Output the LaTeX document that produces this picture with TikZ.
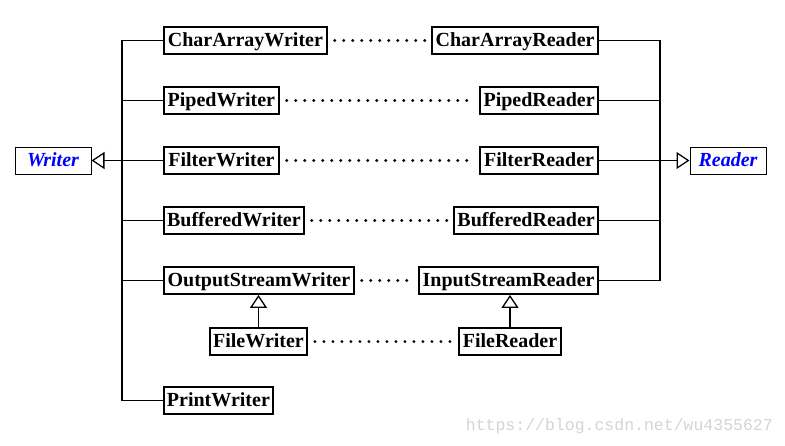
\documentclass[tikz,border=0pt]{standalone}
\usepackage{fontspec}
\setmainfont{Liberation Serif}
\setmonofont{Liberation Mono}
\usetikzlibrary{arrows.meta}
\definecolor{wm}{RGB}{212,212,212}
\tikzset{
  cls/.style={draw, line width=1.8pt, font=\bfseries\fontsize{20}{21}\selectfont, inner xsep=2pt, inner ysep=0pt, text height=15pt, text depth=2.6pt, minimum height=27pt},
  abs/.style={draw, line width=1pt, text=blue, font=\bfseries\itshape\fontsize{20}{21}\selectfont, inner sep=0pt, text height=15pt, text depth=2.6pt, minimum height=27pt, minimum width=76pt},
  bus/.style={line width=1.9pt},
  pair/.style={line width=3.2pt, line cap=round, dash pattern=on 0pt off 9pt, shorten <=7pt, shorten >=5pt},
  inh/.style={line width=1.9pt, -{Triangle[open, length=13pt, width=17pt, line width=1.3pt]}},
}
\begin{document}
\begin{tikzpicture}[x=1pt, y=-1pt]
\useasboundingbox (0,0) rectangle (785,445);
% abstract parents
\node[abs] (writer) at (53,160.5) {Writer};
\node[abs] (reader) at (728,160.5) {Reader};
% writers
\node[cls, anchor=west, minimum width=163pt] (caw) at (163,40.5) {CharArrayWriter};
\node[cls, anchor=west, minimum width=115pt] (pw) at (163,100.5) {PipedWriter};
\node[cls, anchor=west, minimum width=115pt] (fiw) at (163,160.5) {FilterWriter};
\node[cls, anchor=west, minimum width=140pt] (bw) at (163,220.5) {BufferedWriter};
\node[cls, anchor=west, minimum width=190pt] (osw) at (163,280.5) {OutputStreamWriter};
\node[cls, minimum width=97pt] (flw) at (258.5,341.5) {FileWriter};
\node[cls, anchor=west, minimum width=109pt] (prw) at (163,400.5) {PrintWriter};
% readers
\node[cls, anchor=east, minimum width=166pt] (car) at (599,40.5) {CharArrayReader};
\node[cls, anchor=east, minimum width=118pt] (pr) at (599,100.5) {PipedReader};
\node[cls, anchor=east, minimum width=118pt] (fir) at (599,160.5) {FilterReader};
\node[cls, anchor=east, minimum width=144pt] (br) at (599,220.5) {BufferedReader};
\node[cls, anchor=east, minimum width=179pt] (isr) at (599,280.5) {InputStreamReader};
\node[cls, minimum width=102pt] (flr) at (510,341.5) {FileReader};
% bus coordinates
\coordinate (wx) at (122,0);
\coordinate (rx) at (660,0);
% writer bus
\draw[bus] (caw.west) -- (caw.west -| wx) -- (prw.west -| wx) -- (prw.west);
\foreach \n in {pw,fiw,bw,osw} \draw[bus] (\n.west) -- (\n.west -| wx);
\draw[inh] (fiw.west -| wx) -- (writer.east);
% reader bus
\draw[bus] (car.east) -- (car.east -| rx) -- (isr.east -| rx) -- (isr.east);
\foreach \n in {pr,fir,br} \draw[bus] (\n.east) -- (\n.east -| rx);
\draw[inh] (fir.east -| rx) -- (reader.west);
% file inheritance
\draw[inh] (flw.north) -- (osw.south -| flw.north);
\draw[inh] (flr.north) -- (isr.south -| flr.north);
% pairs
\draw[pair] (caw.east) -- (car.west);
\draw[pair] (pw.east) -- (pr.west);
\draw[pair] (fiw.east) -- (fir.west);
\draw[pair] (bw.east) -- (br.west);
\draw[pair] (osw.east) -- (isr.west);
\draw[pair] (flw.east) -- (flr.west);
% watermark
\node[anchor=base east, inner sep=0pt, text=wm, font=\ttfamily\fontsize{16.5}{17}\selectfont] (wmk) at (773,430) {https://blog.csdn.net/wu4355627};
\end{tikzpicture}
\end{document}
